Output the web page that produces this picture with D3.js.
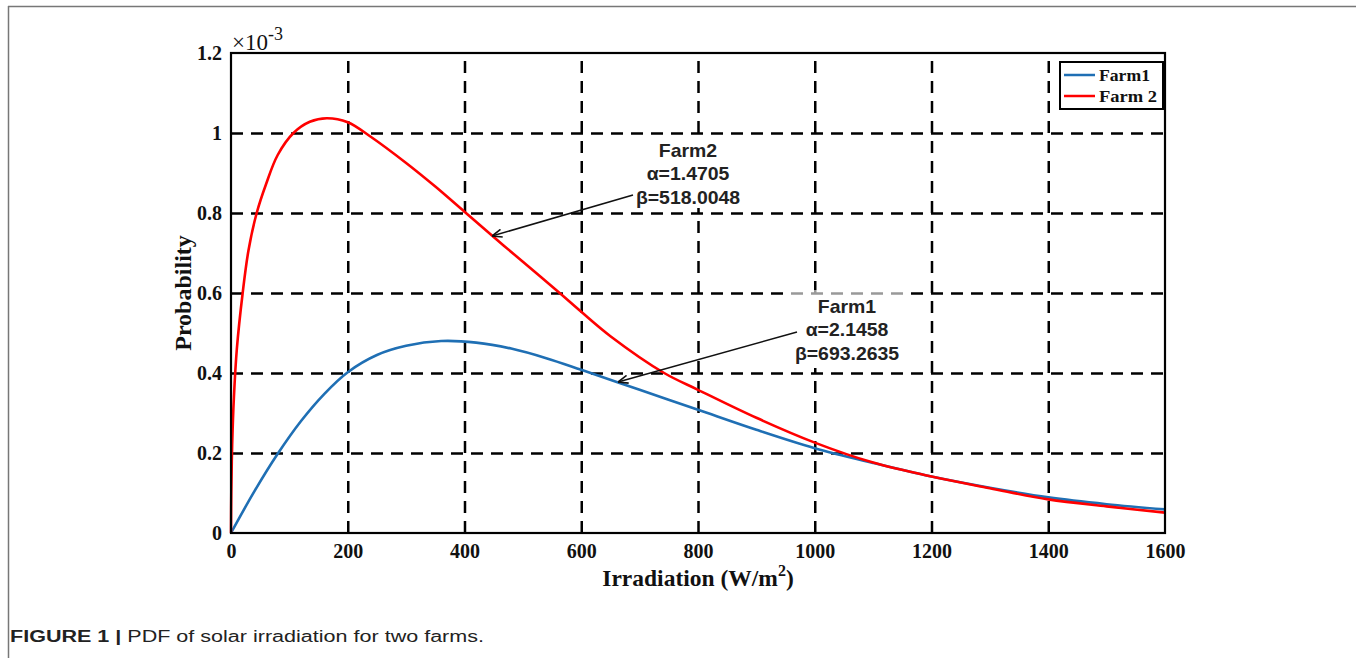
<!DOCTYPE html>
<html>
<head>
<meta charset="utf-8">
<script src="https://cdn.jsdelivr.net/npm/d3@7"></script>
<style>
  body { margin: 0; background: #fff; }
  svg { display: block; }
</style>
</head>
<body>
<svg id="chart" width="1356" height="658"></svg>
<script>
// data (probability in units of 1e-3)
const farm1X = [0, 40, 80, 120, 160, 200, 250, 300, 360, 420, 480, 540, 600, 700, 800, 900, 1000, 1100, 1200, 1300, 1400, 1500, 1600];
const farm1Y = [0, 0.104, 0.198, 0.28, 0.348, 0.402, 0.445, 0.468, 0.48, 0.476, 0.461, 0.437, 0.408, 0.358, 0.308, 0.258, 0.212, 0.175, 0.141, 0.113, 0.089, 0.072, 0.059];

const farm2X = [0, 0.5, 2, 5, 10, 20, 30, 44, 60, 80, 107, 135, 164, 200, 240, 300, 350, 400, 450, 500, 563, 600, 650, 742, 800, 900, 1000, 1100, 1200, 1300, 1400, 1500, 1600];
const farm2Y = [0, 0.1, 0.22, 0.34, 0.46, 0.6, 0.707, 0.8, 0.872, 0.945, 1.0, 1.028, 1.037, 1.027, 0.99, 0.925, 0.866, 0.803, 0.74, 0.678, 0.6, 0.553, 0.492, 0.4, 0.358, 0.288, 0.226, 0.176, 0.141, 0.112, 0.084, 0.0665, 0.051];

const xTicks = [0, 200, 400, 600, 800, 1000, 1200, 1400, 1600];
const yTicks = [0, 0.2, 0.4, 0.6, 0.8, 1, 1.2];
const seriesNames = ["Farm1", "Farm 2"];
const seriesColors = ["#1f6fb4", "#ff0000"];

const svg = d3.select("#chart");

// plot area
const plot = {left: 231, right: 1165, top: 53, bottom: 533};

const x = d3.scaleLinear().domain([0, 1600]).range([plot.left, plot.right]);
const y = d3.scaleLinear().domain([0, 1.2]).range([plot.bottom, plot.top]);

// figure border (top + left only)
svg.append("line").attr("x1", 8).attr("x2", 1356).attr("y1", 6.5).attr("y2", 6.5)
  .attr("stroke", "#777").attr("stroke-width", 1.5);
svg.append("line").attr("x1", 8.5).attr("x2", 8.5).attr("y1", 6).attr("y2", 658)
  .attr("stroke", "#777").attr("stroke-width", 1.5);

// grid lines
const gridX = svg.append("g")
  .attr("class", "grid")
  .attr("transform", `translate(0, ${plot.bottom})`)
  .call(d3.axisBottom(x).tickValues(xTicks.slice(1, -1)).tickSize(-(plot.bottom - plot.top)).tickFormat(""));
gridX.select(".domain").remove();

const gridY = svg.append("g")
  .attr("class", "grid")
  .attr("transform", `translate(${plot.left}, 0)`)
  .call(d3.axisLeft(y).tickValues(yTicks.slice(1, -1)).tickSize(-(plot.right - plot.left)).tickFormat(""));
gridY.select(".domain").remove();

svg.selectAll(".grid .tick line")
  .attr("stroke", "#000")
  .attr("stroke-width", 2.5)
  .attr("stroke-dasharray", "12,8");

// white boxes behind the annotation text
svg.append("rect").attr("x", 630).attr("y", 140).attr("width", 116).attr("height", 68).attr("fill", "#fff");
svg.append("rect").attr("x", 786).attr("y", 290).attr("width", 122).attr("height", 8).attr("fill", "#fff").attr("opacity", 0.6);
svg.append("rect").attr("x", 786).attr("y", 297).attr("width", 122).attr("height", 71).attr("fill", "#fff");

// curves
const line = d3.line()
  .x(d => x(d[0]))
  .y(d => y(d[1]))
  .curve(d3.curveCatmullRom.alpha(0.5));

const series = [
  d3.zip(farm1X, farm1Y),
  d3.zip(farm2X, farm2Y)
];

svg.selectAll(".curve")
  .data(series)
  .enter()
  .append("path")
  .attr("class", "curve")
  .attr("d", line)
  .attr("fill", "none")
  .attr("stroke", (d, i) => seriesColors[i])
  .attr("stroke-width", 2.6);

// axis box
svg.append("rect")
  .attr("x", plot.left).attr("y", plot.top)
  .attr("width", plot.right - plot.left).attr("height", plot.bottom - plot.top)
  .attr("fill", "none").attr("stroke", "#000").attr("stroke-width", 2.2);

// tick labels
const xAxis = svg.append("g")
  .attr("class", "axis")
  .attr("transform", `translate(0, ${plot.bottom})`)
  .call(d3.axisBottom(x).tickValues(xTicks).tickSize(0).tickPadding(11).tickFormat(d3.format("d")));
xAxis.select(".domain").remove();

const yAxis = svg.append("g")
  .attr("class", "axis")
  .attr("transform", `translate(${plot.left}, 0)`)
  .call(d3.axisLeft(y).tickValues(yTicks).tickSize(0).tickPadding(9).tickFormat(d => d === 0 ? "0" : d3.format("~g")(d)));
yAxis.select(".domain").remove();

svg.selectAll(".axis text")
  .style("font-family", "'Liberation Serif', 'Times New Roman', serif")
  .style("font-weight", "bold")
  .style("font-size", "20px")
  .attr("fill", "#111");

// exponent label
const expo = svg.append("text")
  .attr("x", 232).attr("y", 50)
  .style("font-family", "'Liberation Serif', serif")
  .style("font-size", "23px")
  .attr("fill", "#111");
expo.append("tspan").text("\u00d710");
expo.append("tspan").attr("dy", -10).style("font-size", "18px").text("-3");

// axis titles
svg.append("text")
  .attr("x", 698).attr("y", 586)
  .attr("text-anchor", "middle")
  .style("font-family", "'Liberation Serif', serif")
  .style("font-weight", "bold")
  .style("font-size", "23.5px")
  .attr("fill", "#111")
  .call(t => {
    t.append("tspan").text("Irradiation (W/m");
    t.append("tspan").attr("dy", -10).style("font-size", "16px").text("2");
    t.append("tspan").attr("dy", 10).text(")");
  });

svg.append("text")
  .attr("transform", `translate(191, ${(plot.top + plot.bottom) / 2}) rotate(-90)`)
  .attr("text-anchor", "middle")
  .style("font-family", "'Liberation Serif', serif")
  .style("font-weight", "bold")
  .style("font-size", "24px")
  .attr("fill", "#111")
  .text("Probability");

// legend
const legend = svg.append("g");
legend.append("rect")
  .attr("x", 1060).attr("y", 62).attr("width", 103).attr("height", 47)
  .attr("fill", "#fff").attr("stroke", "#000").attr("stroke-width", 2);
seriesNames.forEach((name, i) => {
  const ly = 75 + i * 21;
  legend.append("line")
    .attr("x1", 1064).attr("x2", 1095).attr("y1", ly).attr("y2", ly)
    .attr("stroke", seriesColors[i]).attr("stroke-width", 2.5);
  legend.append("text")
    .attr("x", 1099).attr("y", ly + 5.5)
    .attr("textLength", i === 0 ? 51 : 58)
    .attr("lengthAdjust", "spacingAndGlyphs")
    .style("font-family", "'Liberation Serif', serif")
    .style("font-weight", "bold")
    .style("font-size", "16px")
    .attr("fill", "#111")
    .text(name);
});

// annotations
svg.append("defs").append("marker")
  .attr("id", "arrow")
  .attr("viewBox", "0 0 10 10")
  .attr("refX", 10).attr("refY", 5)
  .attr("markerWidth", 10).attr("markerHeight", 10)
  .attr("markerUnits", "userSpaceOnUse")
  .attr("orient", "auto")
  .append("path")
  .attr("d", "M0,1 L10,5 L0,9")
  .attr("fill", "none")
  .attr("stroke", "#111")
  .attr("stroke-width", 1.6);

const notes = [
  {lines: ["Farm2", "\u03b1=1.4705", "\u03b2=518.0048"], cx: 688, cy: 150, from: [633, 195], to: [492, 236]},
  {lines: ["Farm1", "\u03b1=2.1458", "\u03b2=693.2635"], cx: 847, cy: 306, from: [797, 332], to: [618, 382]}
];

notes.forEach(n => {
  svg.append("line")
    .attr("x1", n.from[0]).attr("y1", n.from[1])
    .attr("x2", n.to[0]).attr("y2", n.to[1])
    .attr("stroke", "#111").attr("stroke-width", 1.6)
    .attr("marker-end", "url(#arrow)");
  n.lines.forEach((s, i) => {
    svg.append("g")
      .attr("transform", `translate(${n.cx}, ${n.cy + i * 23.5 + 6.5}) scale(1.08, 1)`)
      .append("text")
      .attr("text-anchor", "middle")
      .style("font-family", "'Liberation Sans', Arial, sans-serif")
      .style("font-weight", "bold")
      .style("font-size", "18px")
      .attr("fill", "#222")
      .text(s);
  });
});

// caption
const cap = svg.append("text")
  .attr("x", 10).attr("y", 642)
  .attr("textLength", 474)
  .attr("lengthAdjust", "spacingAndGlyphs")
  .style("font-family", "'Liberation Sans', Arial, sans-serif")
  .style("font-size", "16px")
  .attr("fill", "#222");
cap.append("tspan").style("font-weight", "bold").text("FIGURE 1 | ");
cap.append("tspan").text("PDF of solar irradiation for two farms.");
</script>
</body>
</html>
